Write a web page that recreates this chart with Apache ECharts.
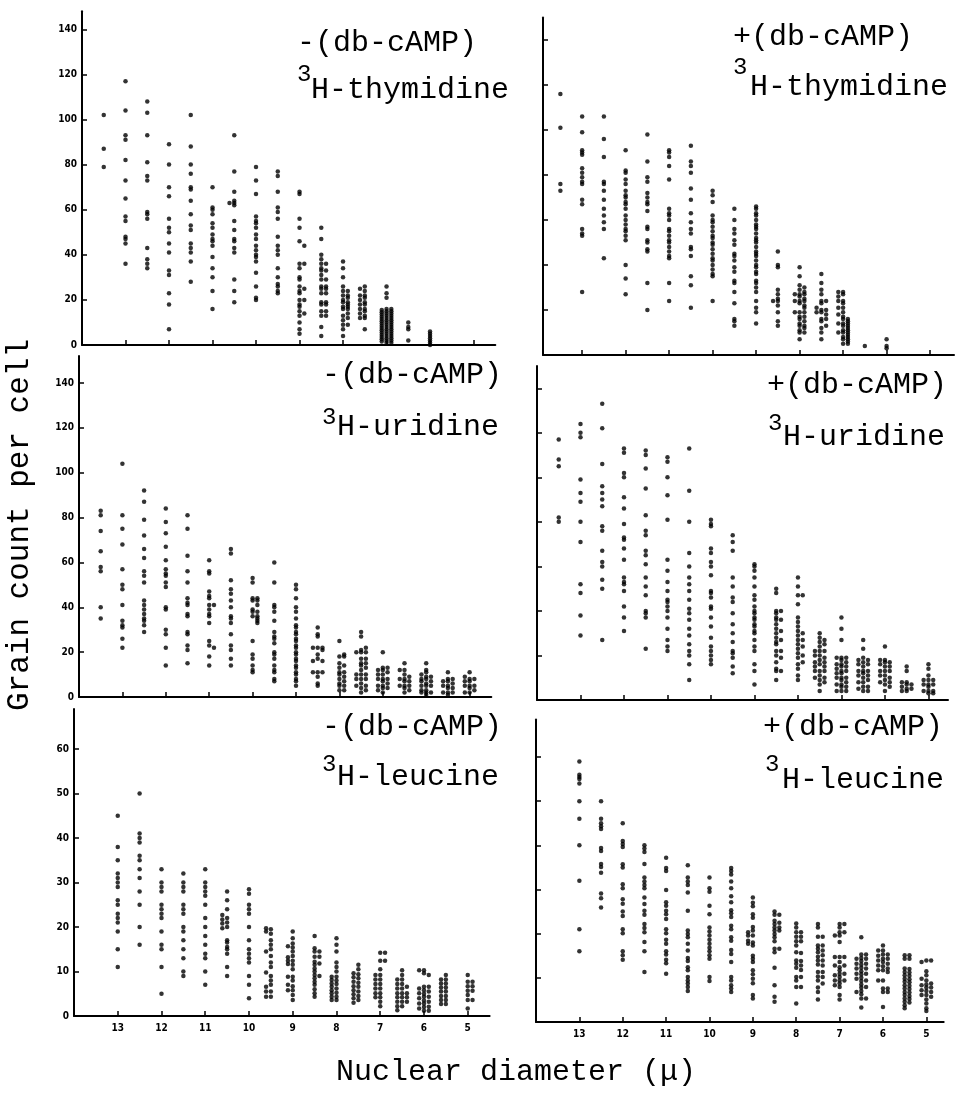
<!DOCTYPE html>
<html><head><meta charset="utf-8">
<script src="https://cdn.jsdelivr.net/npm/echarts@6/dist/echarts.min.js"></script>
<style>html,body{margin:0;padding:0;background:#fff}#c{width:963px;height:1097px}</style>
</head><body><div id="c"></div>
<script>
// ---------- tick labels ----------
const xTicks = [13, 12, 11, 10, 9, 8, 7, 6, 5];
const yTicksHigh = [0, 20, 40, 60, 80, 100, 120, 140];
const yTicksLow = [0, 10, 20, 30, 40, 50, 60];

// ---------- nuclear diameter classes (µ) ----------
const colsTop = [13.5, 13, 12.5, 12, 11.5, 11, 10.5, 10, 9.5, 9, 8.5, 8, 7.5, 7, 6.5, 6];
const colsMid = [13.5, 13, 12.5, 12, 11.5, 11, 10.5, 10, 9.5, 9, 8.5, 8, 7.5, 7, 6.5, 6, 5.5, 5];
const colsBot = [13, 12.5, 12, 11.5, 11, 10.5, 10, 9.5, 9, 8.5, 8, 7.5, 7, 6.5, 6, 5.5, 5];

// ---------- -(db-cAMP) 3H-thymidine ----------
const thyMinus = [
  [102, 87, 79],
  [117, 104, 93, 91, 82, 73, 65, 57, 55, 48, 47, 45, 36],
  [108, 103, 93, 81, 75, 73, 59, 58, 56, 43, 38, 36, 34],
  [89, 80, 70, 66, 56, 52, 50, 45, 41, 33, 31, 23, 18, 7],
  [102, 88, 80, 76, 70, 69, 64, 58, 53, 51, 45, 43, 41, 37, 28],
  [70, 61, 60, 58, 54, 52, 49, 47, 46, 44, 39, 34, 30, 24, 16],
  [93, 77, 68, 64, 63, 62, 55, 51, 47, 46, 43, 41, 29, 24, 19],
  [79, 73, 67, 57, 55, 54, 52, 49, 47, 44, 42, 40, 39, 37, 32, 26, 21, 20],
  [77, 75, 68, 61, 59, 56, 48, 44, 42, 40, 34, 30, 27, 26, 24, 23],
  [68, 67, 56, 52, 46, 36, 34, 30, 29, 26, 24, 23, 20, 18, 17, 15, 13, 10, 7, 5],
  [52, 47, 40, 38, 36, 34, 33, 31, 29, 26, 25, 23, 19, 18, 15, 13, 8, 4],
  [37, 34, 30, 26, 24, 22, 20, 19, 17, 16, 13, 11, 9, 7, 4],
  [26, 24, 22, 21, 19, 18, 16, 15, 13, 12, 7],
  [26, 23, 21, 16, 15, 14, 13, 12, 11, 10, 9, 8, 7, 6, 5, 4, 3, 2, 1],
  [10, 8, 7, 2],
  [6, 5, 4, 3, 2, 1, 0]
];
const thyMinusL = {'10.5': [63], '7.5': [25, 22, 20, 18, 16, 14, 12], '7': [15.5, 14.5, 13.5, 12.5, 11.5, 10.5, 9.5, 8.5, 7.5, 6.5, 5.5, 4.5, 3.5, 2.5, 1.5]};
const thyMinusR = {'9': [44, 36, 25, 20, 14], '8.5': [36, 33, 29, 26, 25, 23, 19, 18, 15, 13], '8': [24, 22, 21, 19, 18, 17, 16, 14, 12, 9], '7': [16, 15, 14, 13, 12, 11, 10, 9, 8, 7, 6, 5, 4, 3, 2, 1]};

// ---------- +(db-cAMP) 3H-thymidine ----------
const thyPlus = [
  [116, 101, 76, 73],
  [106, 99, 91, 90, 89, 83, 81, 79, 77, 76, 69, 67, 56, 54, 53, 28],
  [106, 96, 88, 77, 76, 73, 69, 65, 62, 59, 56, 43],
  [91, 82, 81, 78, 76, 73, 71, 70, 68, 67, 65, 62, 60, 58, 56, 55, 53, 51, 40, 34, 27],
  [98, 86, 79, 77, 72, 70, 68, 67, 64, 57, 56, 51, 50, 47, 46, 32, 20],
  [91, 90, 88, 84, 78, 65, 63, 62, 60, 56, 55, 53, 51, 50, 48, 46, 44, 43, 32, 24],
  [93, 86, 84, 81, 74, 69, 63, 59, 56, 54, 48, 47, 44, 35, 31, 21],
  [73, 71, 68, 62, 60, 59, 57, 55, 53, 52, 50, 49, 47, 45, 43, 42, 40, 38, 36, 35, 24],
  [65, 60, 56, 54, 51, 49, 45, 44, 42, 39, 37, 33, 32, 28, 23, 16, 15, 13],
  [66, 65, 63, 62, 60, 58, 57, 56, 54, 52, 51, 50, 48, 46, 45, 44, 42, 40, 39, 37, 36, 33, 32, 30, 28, 24, 21, 19, 14],
  [46, 40, 39, 29, 27, 25, 24, 22, 19, 15, 13],
  [39, 35, 31, 29, 27, 26, 24, 23, 19, 17, 16, 14, 13, 11, 10, 7],
  [36, 32, 29, 27, 24, 23, 20, 19, 16, 15, 12, 10, 7],
  [28, 27, 24, 23, 21, 19, 17, 16, 14, 13, 11, 10, 8, 7, 5],
  [4],
  [7, 4, 3]
];
const thyPlusL = {'8.5': [24], '8': [27, 24, 19], '7.5': [21, 19], '7': [28, 26, 24, 21, 18, 14, 10]};
const thyPlusR = {'8': [30, 28, 27, 25, 24, 22, 21, 19, 17, 15, 13, 12, 10], '7.5': [24, 20, 18, 16, 13], '7': [16, 15, 14, 13, 12, 11, 10, 9, 8, 7, 6, 5]};

// ---------- -(db-cAMP) 3H-uridine ----------
const uriMinus = [
  [83, 81, 74, 65, 58, 56, 40, 35],
  [104, 81, 75, 68, 57, 50, 48, 41, 34, 32, 31, 26, 22],
  [92, 87, 79, 72, 66, 62, 56, 54, 51, 43, 41, 39, 37, 35, 34, 32, 29],
  [84, 78, 73, 67, 61, 57, 55, 54, 51, 49, 40, 39, 30, 28, 22, 14],
  [81, 75, 63, 56, 51, 44, 42, 41, 37, 36, 29, 28, 23, 21, 15],
  [61, 56, 55, 47, 45, 44, 41, 39, 37, 36, 33, 25, 23, 18, 14],
  [66, 64, 52, 48, 46, 43, 40, 36, 35, 33, 28, 23, 21, 17, 14],
  [53, 51, 44, 43, 39, 38, 36, 25, 19, 17, 14, 12, 11],
  [60, 51, 41, 40, 38, 34, 29, 27, 26, 24, 20, 19, 17, 14, 12, 11, 8, 7],
  [50, 48, 44, 40, 38, 35, 32, 31, 29, 28, 26, 25, 23, 22, 20, 19, 17, 16, 14, 13, 11, 10, 8, 7, 5],
  [31, 28, 27, 22, 19, 17, 11, 9, 6, 5],
  [25, 18, 15, 13, 11, 10, 8, 6, 5, 3],
  [29, 27, 21, 20, 17, 15, 14, 12, 10, 8, 6, 4, 2],
  [20, 13, 12, 10, 8, 7, 5, 4, 2],
  [15, 12, 10, 8, 7, 5, 4, 2],
  [15, 12, 11, 9, 8, 6, 5, 3, 2, 1],
  [11, 8, 7, 5, 4, 2, 1],
  [11, 8, 7, 5, 4, 2]
];
const uriMinusL = {'8.5': [22, 16, 11], '7.5': [20, 10, 8, 5], '7': [12, 10, 8, 5, 3], '6.5': [12, 8, 5], '6': [10, 8, 7, 5, 3, 2], '5.5': [7, 5, 2], '5': [9, 7, 5, 2]};
const uriMinusR = {'11': [41, 22], '10': [44, 43, 41, 38, 36, 35, 34, 33], '8.5': [22, 21, 16, 11], '8': [19, 18, 14, 11, 9, 7, 5, 3], '7.5': [22, 20, 17, 15, 13, 10, 8, 5, 3], '7': [13, 11, 8, 6, 4], '6.5': [9, 7, 5, 3], '6': [9, 7, 5, 2], '5.5': [8, 6, 4, 2], '5': [8, 5, 3]};

// ---------- +(db-cAMP) 3H-uridine ----------
const uriPlus = [
  [117, 108, 105, 82, 80],
  [124, 120, 118, 99, 93, 89, 80, 71, 52, 48, 38, 29],
  [133, 122, 106, 96, 93, 90, 87, 78, 76, 67, 62, 60, 54, 50, 27],
  [113, 111, 102, 100, 91, 86, 79, 73, 72, 68, 63, 55, 53, 52, 49, 42, 37, 31],
  [112, 110, 104, 95, 83, 76, 74, 67, 65, 61, 55, 51, 47, 40, 39, 37, 23],
  [109, 107, 100, 92, 81, 63, 58, 53, 49, 45, 44, 42, 40, 37, 32, 27, 24, 22],
  [113, 94, 80, 66, 60, 55, 52, 49, 45, 41, 39, 36, 32, 29, 25, 22, 20, 16, 9],
  [81, 79, 78, 68, 66, 62, 60, 56, 49, 48, 46, 42, 41, 37, 33, 28, 24, 22, 20, 18, 16],
  [74, 71, 67, 55, 51, 46, 44, 39, 34, 30, 26, 22, 21, 19, 15, 12],
  [61, 60, 58, 55, 51, 47, 45, 42, 40, 39, 37, 36, 34, 33, 31, 30, 27, 24, 22, 16, 13, 7],
  [50, 48, 40, 39, 37, 36, 34, 32, 30, 28, 26, 25, 22, 20, 17, 14, 13, 9],
  [55, 51, 47, 43, 37, 35, 33, 31, 29, 27, 25, 23, 21, 19, 16, 14, 11, 9],
  [30, 28, 26, 24, 22, 20, 18, 16, 13, 11, 9, 7, 4],
  [37, 32, 27, 19, 18, 16, 15, 13, 12, 10, 9, 7, 6, 4],
  [27, 23, 19, 17, 15, 13, 12, 10, 8, 6, 4],
  [24, 18, 17, 15, 13, 11, 9, 7, 4],
  [15, 13, 8, 7, 5, 4],
  [16, 14, 11, 9, 7, 6, 4, 3]
];
const uriPlusL = {'7.5': [22, 20, 17, 15, 13, 10], '7': [19, 16, 14, 12, 10, 7, 4], '6.5': [18, 16, 13, 11, 8, 5], '6': [18, 16, 13, 11, 8], '5.5': [8, 6, 4], '5': [9, 7, 4]};
const uriPlusR = {'8.5': [40, 36, 31, 27, 22, 19, 13], '8': [47, 30, 27, 24, 20, 17], '7.5': [27, 25, 22, 19, 17, 15, 13, 10, 8], '7': [19, 17, 15, 13, 10, 8, 6, 4], '6.5': [18, 16, 13, 11, 9, 6, 4], '6': [17, 15, 13, 10, 8, 6], '5.5': [7, 5], '5': [9, 7, 4, 3]};

// ---------- -(db-cAMP) 3H-leucine ----------
const leuMinus = [
  [45, 38, 35, 32, 31, 30, 29, 26, 25, 23, 22, 21, 19, 15, 11],
  [50, 41, 40, 39, 36, 35, 33, 31, 28, 25, 20, 16],
  [33, 30, 29, 28, 25, 24, 23, 22, 19, 16, 15, 11, 5],
  [32, 30, 29, 28, 25, 24, 23, 20, 19, 17, 15, 13, 10, 9],
  [33, 30, 29, 28, 27, 25, 22, 20, 18, 16, 14, 13, 10, 7],
  [28, 26, 24, 22, 21, 20, 17, 16.5, 15.5, 15, 14, 11, 9],
  [28.5, 27.5, 25, 24, 23, 20, 17, 15, 14, 13, 12, 9, 7, 4],
  [19.5, 18.5, 17, 16, 15, 13.5, 12, 11, 9, 8, 7, 5.5, 4.3],
  [19, 17.5, 16.3, 15.4, 14.5, 13.5, 12.4, 11.5, 10.5, 8.8, 8, 6.7, 5.8, 4.7, 3.6],
  [18, 15.2, 14.5, 13.3, 12.2, 11.5, 10.7, 10, 9.2, 8.5, 7.7, 7, 6, 5.1, 4.3],
  [17.5, 16, 14.5, 12, 11, 10, 8.8, 8, 7.2, 6.2, 5.2, 4.3, 3.6],
  [11.5, 10.5, 9.4, 8.5, 7.5, 6.6, 5.5, 4.5, 3.6],
  [14.2, 12.4, 10.5, 9.2, 8.2, 7.2, 6.2, 5.1, 4.2, 3.2, 2.2],
  [10.3, 9.2, 8.2, 7.2, 6.2, 5.1, 4.2, 3.2, 2.2],
  [10.3, 9.6, 6.6, 5.8, 5, 4.3, 3.5, 2.8, 2, 1.2],
  [9.2, 8.2, 7.3, 6.4, 5.5, 4.5, 3.6, 2.7],
  [9.2, 7.7, 6.7, 5.7, 4.7, 3.6, 1.7]
];
const leuMinusL = {'10.5': [22.7, 21.7, 20.8, 19.7], '9.5': [19.7, 19, 14.5, 9.8, 6.6, 5.5, 4.3], '9': [15.7, 13.2, 12.4, 11.7, 8.8, 7, 5.8], '8': [8.8, 8.1, 7.3, 6.6, 5.8, 5.1, 4.3, 3.6], '7.5': [9.6, 8.7, 7.7, 6.7, 5.8, 4.9, 4, 3], '7': [9.2, 8.2, 7.2, 6.2, 5.1, 4.2], '6.5': [8.2, 7.2, 6.2, 5.1, 4.2, 3.2, 2.2, 1.3], '6': [10.3, 6.2, 5.1, 4, 2.8, 1.7], '5.5': [8.2, 7.3, 6.4, 5.5, 4.5, 3.6, 2.7]};
const leuMinusR = {'8.5': [14.5, 13.3, 11.8, 9], '7': [14.2, 12.4], '6.5': [6.6, 5.1, 4.2, 3.2], '6': [9.2, 6.6, 5.5, 4.3, 3.2, 2.1, 1.2], '5': [7.7, 6.7, 5.7, 3.6]};

// ---------- +(db-cAMP) 3H-leucine ----------
const leuPlus = [
  [59, 56, 55.5, 55, 54, 50, 46, 40, 32, 21, 16],
  [50, 46, 45, 44.3, 43.7, 39.4, 38.7, 35.8, 35.1, 33.8, 29.1, 28, 25.9],
  [45, 41, 40.3, 39.6, 35.7, 35, 31.2, 30.3, 27.8, 26.8, 25, 24, 21, 20.1, 16, 15.1, 14.1],
  [40, 39.3, 38.5, 35.8, 32.7, 31.8, 31, 30.3, 28.2, 26.7, 25.2, 24.3, 22.2, 21.3, 20.3, 18.1, 16, 11.3],
  [37.2, 34.9, 34.2, 29.9, 27.1, 26.3, 25.2, 24.4, 23.3, 21, 20.1, 18.6, 17.7, 16, 15.3, 14.1, 13.3, 10.9],
  [35.5, 32.7, 31.8, 31, 29.3, 25.2, 20.7, 19.9, 19.2, 17.7, 16.2, 14.5, 13.8, 12.4, 11.7, 10.2, 9.4, 8.7, 7.9, 7],
  [32.7, 30.3, 29.5, 26.3, 24.4, 21.4, 20.5, 19.6, 18.6, 17.7, 16.8, 16, 15.1, 14.3, 10.2, 9.3],
  [34.9, 34.2, 33.4, 31.8, 30.3, 28.5, 27.1, 25.3, 24.6, 23.8, 21.8, 21, 19.2, 18.4, 16.3, 15.4, 13.6, 10.2, 9.4, 8.3, 7.6, 6.8],
  [28.2, 27, 26.2, 24.4, 23.6, 21.5, 20.7, 19.6, 18, 17.3, 15, 14.3, 13.6, 11.7, 10.8, 9.8, 8.8, 6.1, 5.3],
  [25, 24.3, 22.9, 22.2, 21.4, 20.7, 19.9, 19.2, 18.3, 16.6, 15.8, 12.3, 8.3, 5.7, 4.6],
  [22.3, 21.4, 20.3, 19.3, 18.3, 17.3, 15.8, 13.9, 13.2, 12.3, 10.2, 9.4, 7.9, 4.2],
  [22.2, 21.4, 19.3, 17.3, 16.6, 15.8, 14.8, 13.9, 13, 11.3, 10.3, 9.4, 7.8, 6.8, 5.1],
  [22.2, 21.4, 20.3, 19.6, 18.1, 14.7, 13.6, 12.4, 11.7, 10.9, 10.2, 9.4, 8.7, 7.9, 6.1, 5.1],
  [19.2, 15.3, 14.5, 13.8, 13, 12.3, 11.5, 10.8, 10, 9.3, 8.5, 7.8, 7, 6.3, 5.3, 3.3],
  [17.3, 16.2, 15.3, 14.3, 13.6, 12.6, 11.7, 9.4, 7.6, 6.8, 3.4],
  [15.1, 14.3, 12.1, 11.3, 10.6, 9.8, 9.1, 8.3, 7.6, 6.8, 6.1, 5.3, 4.6, 3.8, 3.1],
  [13.9, 11.5, 10.6, 9.4, 8.5, 7.8, 7, 6.1, 5.1, 4.2, 3.1, 2.5]
];
const leuPlusL = {'9': [20.3, 19.6, 18.4, 17.7], '7': [19.6, 14.7, 12.8, 10.6, 9.4, 8.3], '6.5': [14.3, 13.2, 12.1, 10.9, 9.8, 6.8], '6': [16.2, 15, 13.9, 12.8, 11.7, 9.4], '5': [13.6, 9.8, 8.3, 7.2, 6.1]};
const leuPlusR = {'8.5': [24.3, 22.5, 21.4, 20.7, 16.6], '8': [20.3, 19.3, 18.3, 15.6, 13.8, 12.8, 11.8, 10.2, 7.9], '7.5': [19.3, 17.3, 16.2, 15.1, 13.9, 12.8, 11.3, 10.2, 8.7], '7': [22.2, 20.3, 14.7, 12.8, 10.9, 9.4], '6.5': [15.3, 14.3, 13.2, 12.1, 10.9, 9.4, 7.9, 5.3], '6': [15.3, 14.3, 13.2, 12.1, 11.3, 7.6, 6.8], '5.5': [15.1, 14.3, 12, 11.2, 10.5, 9.7, 9, 8.2, 7.5, 6.7, 5.9, 5.2, 4.4], '5': [13.9, 8.7, 7.8, 6.8, 5.7]};

// ---------- panel titles ----------
const treatTitles = ['-(db-cAMP)', '+(db-cAMP)', '-(db-cAMP)', '+(db-cAMP)', '-(db-cAMP)', '+(db-cAMP)'];
const labelTitles = ['H-thymidine', 'H-thymidine', 'H-uridine', 'H-uridine', 'H-leucine', 'H-leucine'];
const yTitle = 'Grain count per cell';
const xTitle = 'Nuclear diameter (\u03bc)';

// ---------- layout (pixels) ----------
const OFF = 0.11;
const panels = [
  {cols: colsTop, main: thyMinus, L: thyMinusL, R: thyMinusR, g: {left: 82, top: 11.3, width: 413.3, height: 333.7}, x: [4.5, 14], y: [0, 148], yt: yTicksHigh, yl: true, xl: false,
   t: {x1: 297, b1: 53, xs: 297, bs: 83, x2: 311, b2: 100}},
  {cols: colsTop, main: thyPlus, L: thyPlusL, R: thyPlusR, g: {left: 543, top: 17.5, width: 411, height: 337.5}, x: [4.45, 13.9], y: [0, 150], yt: yTicksHigh, yl: false, xl: false,
   t: {x1: 733, b1: 47, xs: 733, bs: 76, x2: 750, b2: 97}},
  {cols: colsMid, main: uriMinus, L: uriMinusL, R: uriMinusR, g: {left: 79, top: 356, width: 412.3, height: 341}, x: [4.5, 14], y: [0, 152], yt: yTicksHigh, yl: true, xl: false,
   t: {x1: 322, b1: 385, xs: 322, bs: 426, x2: 337, b2: 437}},
  {cols: colsMid, main: uriPlus, L: uriPlusL, R: uriPlusR, g: {left: 537, top: 366, width: 411, height: 334}, x: [4.55, 14], y: [0, 150], yt: yTicksHigh, yl: false, xl: false,
   t: {x1: 767, b1: 395, xs: 768, bs: 432, x2: 783, b2: 447}},
  {cols: colsBot, main: leuMinus, L: leuMinusL, R: leuMinusR, g: {left: 74, top: 709, width: 415.6, height: 307}, x: [4.5, 14], y: [0, 69], yt: yTicksLow, yl: true, xl: true,
   t: {x1: 322, b1: 737, xs: 322, bs: 773, x2: 337, b2: 787}},
  {cols: colsBot, main: leuPlus, L: leuPlusL, R: leuPlusR, g: {left: 536, top: 719.5, width: 407.7, height: 302.5}, x: [4.6, 14], y: [0, 68.5], yt: yTicksLow, yl: false, xl: true,
   t: {x1: 763, b1: 737, xs: 765, bs: 773, x2: 782, b2: 790}}
];

function buildPoints(p) {
  const pts = [];
  p.cols.forEach((c, i) => p.main[i].forEach(v => pts.push([c, v])));
  Object.keys(p.L).forEach(k => p.L[k].forEach(v => pts.push([+k + OFF, v])));
  Object.keys(p.R).forEach(k => p.R[k].forEach(v => pts.push([+k - OFF, v])));
  return pts;
}

const MONO = '"Liberation Mono", "DejaVu Sans Mono", monospace';
const TICKFONT = '"Liberation Sans Narrow", "DejaVu Sans Condensed", "Liberation Sans", sans-serif';
const BASE = 10; // baseline -> middle offset for 30px mono

const grids = [], xAxes = [], yAxes = [], series = [], graphic = [];
panels.forEach((p, i) => {
  grids.push(Object.assign({containLabel: false, outerBoundsMode: 'none'}, p.g));
  xAxes.push({
    gridIndex: i, type: 'value', inverse: true, min: p.x[0], max: p.x[1],
    position: 'bottom',
    axisLine: {onZero: false, lineStyle: {color: '#000', width: 2}},
    axisTick: {show: true, inside: true, length: 5, customValues: xTicks, lineStyle: {color: '#000', width: 1.5}},
    axisLabel: {show: p.xl, customValues: xTicks, color: '#000', fontSize: 10, fontWeight: 'bold', fontFamily: TICKFONT, margin: 7},
    splitLine: {show: false}
  });
  yAxes.push({
    gridIndex: i, type: 'value', min: p.y[0], max: p.y[1], position: 'left',
    axisLine: {onZero: false, lineStyle: {color: '#000', width: 2}},
    axisTick: {show: true, inside: true, length: 5, customValues: p.yt, lineStyle: {color: '#000', width: 1.5}},
    axisLabel: {show: p.yl, customValues: p.yt, color: '#000', fontSize: 10, fontWeight: 'bold', fontFamily: TICKFONT, margin: 5},
    splitLine: {show: false}
  });
  series.push({
    type: 'scatter', xAxisIndex: i, yAxisIndex: i, symbol: 'circle', symbolSize: 4.5,
    itemStyle: {color: '#000'}, data: buildPoints(p), silent: true, animation: false
  });
  graphic.push(
    {type: 'text', x: p.t.x1, y: p.t.b1 - BASE, style: {text: treatTitles[i], font: '30px ' + MONO, fill: '#000', align: 'left', verticalAlign: 'middle'}},
    {type: 'text', x: p.t.xs, y: p.t.bs - 8, style: {text: '3', font: '24px ' + MONO, fill: '#000', align: 'left', verticalAlign: 'middle'}},
    {type: 'text', x: p.t.x2, y: p.t.b2 - BASE, style: {text: labelTitles[i], font: '30px ' + MONO, fill: '#000', align: 'left', verticalAlign: 'middle'}}
  );
});
graphic.push(
  {type: 'text', x: 20, y: 525, rotation: Math.PI / 2, style: {text: yTitle, font: '31px ' + MONO, fill: '#000', align: 'center', verticalAlign: 'middle'}},
  {type: 'text', x: 516, y: 1072, style: {text: xTitle, font: '30px ' + MONO, fill: '#000', align: 'center', verticalAlign: 'middle'}}
);

const chart = echarts.init(document.getElementById('c'), null, {renderer: 'canvas'});
chart.setOption({
  backgroundColor: '#fff', animation: false,
  grid: grids, xAxis: xAxes, yAxis: yAxes, series: series, graphic: graphic
});
</script></body></html>
